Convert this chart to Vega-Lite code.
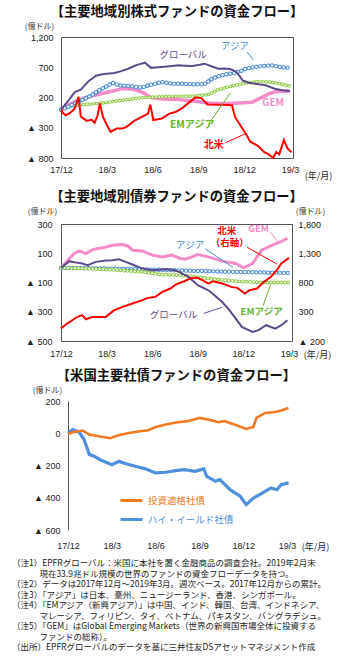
{
"$schema": "https://vega.github.io/schema/vega-lite/v6.json",
"background": "white",
"padding": {"left": 12, "top": 4, "right": 4, "bottom": 0},
"spacing": 8,
"resolve": {"scale": {"color": "independent"}, "legend": {"color": "independent"}},
"config": {
  "view": {"stroke": "#555", "strokeWidth": 1},
  "font": "Noto Sans CJK JP",
  "axis": {"grid": false, "domain": false, "ticks": false, "labelFont": "Liberation Sans", "labelFontSize": 9, "labelColor": "#222", "titleFont": "Noto Sans CJK JP", "titleFontWeight": "normal", "titleFontSize": 8, "titleColor": "#333"},
  "title": {"font": "Noto Sans CJK JP", "fontSize": 13.3, "fontWeight": "bold", "color": "#111", "offset": 4},
  "text": {"font": "Noto Sans CJK JP"}
},
"datasets": {
  "eq": [
    {"s":"グローバル","t":0,"v":0},{"s":"グローバル","t":0.5,"v":154},{"s":"グローバル","t":0.9,"v":290},{"s":"グローバル","t":1.3,"v":330},{"s":"グローバル","t":1.8,"v":470},{"s":"グローバル","t":2.3,"v":560},{"s":"グローバル","t":2.7,"v":585},{"s":"グローバル","t":3.5,"v":605},{"s":"グローバル","t":4.0,"v":640},{"s":"グローバル","t":4.4,"v":676},{"s":"グローバル","t":4.8,"v":720},{"s":"グローバル","t":5.1,"v":748},{"s":"グローバル","t":5.5,"v":775},{"s":"グローバル","t":5.9,"v":690},{"s":"グローバル","t":6.6,"v":704},{"s":"グローバル","t":7.1,"v":715},{"s":"グローバル","t":7.7,"v":731},{"s":"グローバル","t":8.1,"v":725},{"s":"グローバル","t":8.6,"v":720},{"s":"グローバル","t":9.1,"v":740},{"s":"グローバル","t":9.4,"v":759},{"s":"グローバル","t":9.8,"v":720},{"s":"グローバル","t":10.3,"v":676},{"s":"グローバル","t":10.7,"v":680},{"s":"グローバル","t":11.1,"v":670},{"s":"グローバル","t":11.5,"v":621},{"s":"グローバル","t":11.9,"v":484},{"s":"グローバル","t":12.3,"v":445},{"s":"グローバル","t":12.7,"v":429},{"s":"グローバル","t":13.4,"v":401},{"s":"グローバル","t":14.0,"v":346},{"s":"グローバル","t":14.5,"v":320},{"s":"グローバル","t":15.0,"v":308},
    {"s":"アジア","t":0,"v":0},{"s":"アジア","t":0.5,"v":50},{"s":"アジア","t":0.9,"v":99},{"s":"アジア","t":1.4,"v":160},{"s":"アジア","t":1.8,"v":209},{"s":"アジア","t":2.2,"v":270},{"s":"アジア","t":2.5,"v":319},{"s":"アジア","t":2.8,"v":360},{"s":"アジア","t":3.1,"v":401},{"s":"アジア","t":3.4,"v":440},{"s":"アジア","t":3.8,"v":401},{"s":"アジア","t":4.2,"v":395},{"s":"アジア","t":4.6,"v":390},{"s":"アジア","t":5.0,"v":370},{"s":"アジア","t":5.3,"v":363},{"s":"アジア","t":5.7,"v":400},{"s":"アジア","t":6.2,"v":429},{"s":"アジア","t":6.6,"v":456},{"s":"アジア","t":7.0,"v":440},{"s":"アジア","t":7.3,"v":429},{"s":"アジア","t":7.8,"v":429},{"s":"アジア","t":8.5,"v":418},{"s":"アジア","t":9.0,"v":418},{"s":"アジア","t":9.4,"v":418},{"s":"アジア","t":9.9,"v":511},{"s":"アジア","t":10.3,"v":550},{"s":"アジア","t":10.8,"v":583},{"s":"アジア","t":11.4,"v":605},{"s":"アジア","t":11.8,"v":640},{"s":"アジア","t":12.1,"v":676},{"s":"アジア","t":12.6,"v":700},{"s":"アジア","t":13.2,"v":720},{"s":"アジア","t":13.8,"v":731},{"s":"アジア","t":14.4,"v":704},{"s":"アジア","t":15.0,"v":687},
    {"s":"GEM","t":0,"v":0},{"s":"GEM","t":0.5,"v":80},{"s":"GEM","t":1.1,"v":154},{"s":"GEM","t":1.6,"v":200},{"s":"GEM","t":2.2,"v":236},{"s":"GEM","t":2.7,"v":265},{"s":"GEM","t":3.1,"v":291},{"s":"GEM","t":3.6,"v":320},{"s":"GEM","t":4.0,"v":346},{"s":"GEM","t":4.4,"v":345},{"s":"GEM","t":4.8,"v":330},{"s":"GEM","t":5.2,"v":300},{"s":"GEM","t":5.5,"v":264},{"s":"GEM","t":5.9,"v":198},{"s":"GEM","t":6.4,"v":185},{"s":"GEM","t":6.8,"v":176},{"s":"GEM","t":7.7,"v":165},{"s":"GEM","t":8.3,"v":150},{"s":"GEM","t":8.8,"v":137},{"s":"GEM","t":9.7,"v":110},{"s":"GEM","t":10.3,"v":100},{"s":"GEM","t":11.0,"v":99},{"s":"GEM","t":11.7,"v":110},{"s":"GEM","t":12.5,"v":121},{"s":"GEM","t":12.9,"v":170},{"s":"GEM","t":13.2,"v":209},{"s":"GEM","t":13.6,"v":260},{"s":"GEM","t":14.0,"v":291},{"s":"GEM","t":14.5,"v":305},{"s":"GEM","t":15.0,"v":308},
    {"s":"EMアジア","t":0,"v":0},{"s":"EMアジア","t":0.5,"v":40},{"s":"EMアジア","t":0.9,"v":71},{"s":"EMアジア","t":1.8,"v":88},{"s":"EMアジア","t":2.9,"v":115},{"s":"EMアジア","t":4.0,"v":154},{"s":"EMアジア","t":5.1,"v":192},{"s":"EMアジア","t":6.2,"v":209},{"s":"EMアジア","t":7.7,"v":220},{"s":"EMアジア","t":8.8,"v":225},{"s":"EMアジア","t":9.7,"v":253},{"s":"EMアジア","t":10.3,"v":330},{"s":"EMアジア","t":11.2,"v":390},{"s":"EMアジア","t":12.1,"v":440},{"s":"EMアジア","t":13.0,"v":465},{"s":"EMアジア","t":13.6,"v":456},{"s":"EMアジア","t":14.2,"v":435},{"s":"EMアジア","t":15.0,"v":390},
    {"s":"北米","t":0,"v":0},{"s":"北米","t":0.15,"v":-60},{"s":"北米","t":0.3,"v":-94},{"s":"北米","t":0.6,"v":-55},{"s":"北米","t":0.9,"v":20},{"s":"北米","t":1.15,"v":213},{"s":"北米","t":1.3,"v":-117},{"s":"北米","t":1.7,"v":-187},{"s":"北米","t":2.0,"v":-165},{"s":"北米","t":2.2,"v":-220},{"s":"北米","t":2.4,"v":-94},{"s":"北米","t":2.55,"v":100},{"s":"北米","t":2.75,"v":-121},{"s":"北米","t":3.0,"v":-250},{"s":"北米","t":3.25,"v":-369},{"s":"北米","t":3.65,"v":-314},{"s":"北米","t":4.0,"v":-314},{"s":"北米","t":4.3,"v":-286},{"s":"北米","t":4.8,"v":-187},{"s":"北米","t":5.3,"v":-121},{"s":"北米","t":5.7,"v":-66},{"s":"北米","t":5.85,"v":80},{"s":"北米","t":6.05,"v":-172},{"s":"北米","t":6.6,"v":-149},{"s":"北米","t":7.1,"v":-66},{"s":"北米","t":7.5,"v":-39},{"s":"北米","t":7.9,"v":16},{"s":"北米","t":8.3,"v":99},{"s":"北米","t":8.8,"v":200},{"s":"北米","t":9.2,"v":190},{"s":"北米","t":9.6,"v":85},{"s":"北米","t":10.5,"v":80},{"s":"北米","t":11.2,"v":71},{"s":"北米","t":11.4,"v":-121},{"s":"北米","t":11.75,"v":-260},{"s":"北米","t":12.1,"v":-396},{"s":"北米","t":12.4,"v":-530},{"s":"北米","t":12.9,"v":-600},{"s":"北米","t":13.3,"v":-700},{"s":"北米","t":13.6,"v":-740},{"s":"北米","t":13.9,"v":-795},{"s":"北米","t":14.1,"v":-700},{"s":"北米","t":14.3,"v":-740},{"s":"北米","t":14.6,"v":-500},{"s":"北米","t":14.85,"v":-644},{"s":"北米","t":15.1,"v":-705}
  ],
  "eqlab": [
    {"s":"グローバル","t":8.0,"v":902,"label":"グローバル"},
    {"s":"アジア","t":11.4,"v":1056,"label":"アジア"},
    {"s":"GEM","t":13.9,"v":114,"label":"GEM"},
    {"s":"EMアジア","t":8.6,"v":-255,"label":"EMアジア"},
    {"s":"北米","t":10.0,"v":-585,"label":"北米"}
  ],
  "eqarr": [
    {"s":"アジア","t":12.2,"v":950,"t2":12.6,"v2":820},
    {"s":"EMアジア","t":9.8,"v":-190,"t2":11.1,"v2":274},
    {"s":"北米","t":10.75,"v":-550,"t2":12.05,"v2":-403}
  ],
  "bd": [
    {"s":"GEM","t":0,"v":0},{"s":"GEM","t":0.55,"v":64},{"s":"GEM","t":0.9,"v":100},{"s":"GEM","t":1.2,"v":116},{"s":"GEM","t":1.64,"v":98},{"s":"GEM","t":2.08,"v":125},{"s":"GEM","t":2.74,"v":137},{"s":"GEM","t":3.4,"v":155},{"s":"GEM","t":4.05,"v":160},{"s":"GEM","t":4.4,"v":150},{"s":"GEM","t":4.7,"v":121},{"s":"GEM","t":5.36,"v":116},{"s":"GEM","t":6.0,"v":87},{"s":"GEM","t":6.67,"v":75},{"s":"GEM","t":7.3,"v":87},{"s":"GEM","t":7.85,"v":64},{"s":"GEM","t":8.2,"v":59},{"s":"GEM","t":9.0,"v":91},{"s":"GEM","t":9.7,"v":75},{"s":"GEM","t":10.6,"v":46},{"s":"GEM","t":11.5,"v":30},{"s":"GEM","t":12.0,"v":0},{"s":"GEM","t":12.6,"v":30},{"s":"GEM","t":13.2,"v":121},{"s":"GEM","t":13.9,"v":155},{"s":"GEM","t":14.5,"v":182},{"s":"GEM","t":14.9,"v":201},
    {"s":"グローバル","t":0,"v":0},{"s":"グローバル","t":0.55,"v":46},{"s":"グローバル","t":1.0,"v":36},{"s":"グローバル","t":1.4,"v":30},{"s":"グローバル","t":1.75,"v":18},{"s":"グローバル","t":2.3,"v":41},{"s":"グローバル","t":2.95,"v":50},{"s":"グローバル","t":3.4,"v":52},{"s":"グローバル","t":3.8,"v":59},{"s":"グローバル","t":4.26,"v":41},{"s":"グローバル","t":4.7,"v":23},{"s":"グローバル","t":5.36,"v":-5},{"s":"グローバル","t":6.0,"v":-16},{"s":"グローバル","t":6.9,"v":-9},{"s":"グローバル","t":7.5,"v":-16},{"s":"グローバル","t":7.75,"v":-27},{"s":"グローバル","t":8.4,"v":-62},{"s":"グローバル","t":9.0,"v":-119},{"s":"グローバル","t":9.7,"v":-153},{"s":"グローバル","t":10.1,"v":-187},{"s":"グローバル","t":10.6,"v":-233},{"s":"グローバル","t":11.0,"v":-278},{"s":"グローバル","t":11.5,"v":-347},{"s":"グローバル","t":11.9,"v":-404},{"s":"グローバル","t":12.6,"v":-438},{"s":"グローバル","t":13.0,"v":-426},{"s":"グローバル","t":13.5,"v":-392},{"s":"グローバル","t":14.1,"v":-415},{"s":"グローバル","t":14.5,"v":-392},{"s":"グローバル","t":14.9,"v":-358},
    {"s":"アジア","t":0,"v":0},{"s":"アジア","t":2,"v":-3},{"s":"アジア","t":4,"v":-7},{"s":"アジア","t":6,"v":-12},{"s":"アジア","t":8,"v":-18},{"s":"アジア","t":10,"v":-24},{"s":"アジア","t":12,"v":-29},{"s":"アジア","t":14,"v":-33},{"s":"アジア","t":15,"v":-35},
    {"s":"EMアジア","t":0,"v":0},{"s":"EMアジア","t":1.75,"v":-5},{"s":"EMアジア","t":3.9,"v":-16},{"s":"EMアジア","t":5.36,"v":-27},{"s":"EMアジア","t":6.67,"v":-46},{"s":"EMアジア","t":7.85,"v":-50},{"s":"EMアジア","t":8.9,"v":-62},{"s":"EMアジア","t":10.2,"v":-78},{"s":"EMアジア","t":11.5,"v":-91},{"s":"EMアジア","t":13.2,"v":-100},{"s":"EMアジア","t":15,"v":-100},
    {"s":"北米","t":0,"v":13},{"s":"北米","t":0.4,"v":98},{"s":"北米","t":0.74,"v":155},{"s":"北米","t":1.07,"v":212},{"s":"北米","t":1.4,"v":241},{"s":"北米","t":1.64,"v":172},{"s":"北米","t":2.08,"v":212},{"s":"北米","t":2.95,"v":212},{"s":"北米","t":3.5,"v":326},{"s":"北米","t":4.05,"v":384},{"s":"北米","t":4.7,"v":440},{"s":"北米","t":5.36,"v":498},{"s":"北米","t":5.7,"v":537},{"s":"北米","t":6.2,"v":554},{"s":"北米","t":6.67,"v":640},{"s":"北米","t":7.2,"v":697},{"s":"北米","t":7.54,"v":765},{"s":"北米","t":8.1,"v":822},{"s":"北米","t":8.5,"v":867},{"s":"北米","t":8.95,"v":885},{"s":"北米","t":9.3,"v":840},{"s":"北米","t":9.7,"v":782},{"s":"北米","t":10.0,"v":822},{"s":"北米","t":10.6,"v":782},{"s":"北米","t":11.2,"v":725},{"s":"北米","t":11.6,"v":708},{"s":"北米","t":12.1,"v":610},{"s":"北米","t":12.4,"v":668},{"s":"北米","t":12.9,"v":697},{"s":"北米","t":13.3,"v":800},{"s":"北米","t":13.8,"v":895},{"s":"北米","t":14.2,"v":1010},{"s":"北米","t":14.5,"v":1125},{"s":"北米","t":15.0,"v":1220}
  ],
  "bdlab": [
    {"s":"北米","t":10.9,"v":255,"label":"北米"},
    {"s":"北米","t":11.1,"v":168,"label":"（右軸）"},
    {"s":"GEM","t":13.0,"v":267,"label":"GEM"},
    {"s":"アジア","t":8.5,"v":153,"label":"アジア"},
    {"s":"グローバル","t":7.4,"v":-321,"label":"グローバル"},
    {"s":"EMアジア","t":13.2,"v":-304,"label":"EMアジア"}
  ],
  "bdarr": [
    {"s":"北米","t":12.25,"v":141,"t2":14.2,"v2":27},
    {"s":"GEM","t":13.8,"v":243,"t2":14.3,"v2":171},
    {"s":"アジア","t":9.5,"v":130,"t2":11.3,"v2":4},
    {"s":"グローバル","t":9.4,"v":-311,"t2":10.6,"v2":-270},
    {"s":"EMアジア","t":13.3,"v":-258,"t2":13.8,"v2":-109}
  ],
  "cp": [
    {"s":"投資適格社債","t":0,"v":-4},{"s":"投資適格社債","t":0.33,"v":6},{"s":"投資適格社債","t":1.0,"v":17},{"s":"投資適格社債","t":1.46,"v":-8},{"s":"投資適格社債","t":2.1,"v":-19},{"s":"投資適格社債","t":2.9,"v":-31},{"s":"投資適格社債","t":3.4,"v":-14},{"s":"投資適格社債","t":4.0,"v":-2},{"s":"投資適格社債","t":4.9,"v":12},{"s":"投資適格社債","t":5.5,"v":19},{"s":"投資適格社債","t":6.0,"v":39},{"s":"投資適格社債","t":6.7,"v":54},{"s":"投資適格社債","t":7.5,"v":68},{"s":"投資適格社債","t":8.2,"v":75},{"s":"投資適格社債","t":9.0,"v":95},{"s":"投資適格社債","t":9.6,"v":85},{"s":"投資適格社債","t":10.3,"v":68},{"s":"投資適格社債","t":10.7,"v":75},{"s":"投資適格社債","t":11.4,"v":54},{"s":"投資適格社債","t":12.2,"v":27},{"s":"投資適格社債","t":12.7,"v":39},{"s":"投資適格社債","t":12.9,"v":95},{"s":"投資適格社債","t":13.5,"v":126},{"s":"投資適格社債","t":14.2,"v":132},{"s":"投資適格社債","t":14.6,"v":141},{"s":"投資適格社債","t":15.1,"v":157},
    {"s":"ハイ・イールド社債","t":0,"v":0},{"s":"ハイ・イールド社債","t":0.33,"v":23},{"s":"ハイ・イールド社債","t":0.78,"v":6},{"s":"ハイ・イールド社債","t":1.1,"v":-39},{"s":"ハイ・イールド社債","t":1.46,"v":-132},{"s":"ハイ・イールド社債","t":1.8,"v":-143},{"s":"ハイ・イールド社債","t":2.2,"v":-164},{"s":"ハイ・イールド社債","t":3.0,"v":-195},{"s":"ハイ・イールド社債","t":3.5,"v":-174},{"s":"ハイ・イールド社債","t":3.8,"v":-184},{"s":"ハイ・イールド社債","t":4.6,"v":-205},{"s":"ハイ・イールド社債","t":5.3,"v":-221},{"s":"ハイ・イールド社債","t":6.0,"v":-246},{"s":"ハイ・イールド社債","t":6.7,"v":-242},{"s":"ハイ・イールド社債","t":7.5,"v":-230},{"s":"ハイ・イールド社債","t":8.0,"v":-226},{"s":"ハイ・イールド社債","t":8.7,"v":-236},{"s":"ハイ・イールド社債","t":9.3,"v":-221},{"s":"ハイ・イールド社債","t":9.5,"v":-267},{"s":"ハイ・イールド社債","t":10.1,"v":-298},{"s":"ハイ・イールド社債","t":10.4,"v":-288},{"s":"ハイ・イールド社債","t":11.1,"v":-350},{"s":"ハイ・イールド社債","t":11.8,"v":-391},{"s":"ハイ・イールド社債","t":12.2,"v":-443},{"s":"ハイ・イールド社債","t":12.7,"v":-402},{"s":"ハイ・イールド社債","t":13.3,"v":-371},{"s":"ハイ・イールド社債","t":13.9,"v":-339},{"s":"ハイ・イールド社債","t":14.3,"v":-350},{"s":"ハイ・イールド社債","t":14.6,"v":-319},{"s":"ハイ・イールド社債","t":15.1,"v":-308}
  ]
},
"vconcat": [
  {
    "width": 232, "height": 121,
    "title": {"text": "【主要地域別株式ファンドの資金フロー】"},
    "encoding": {
      "x": {"field": "t", "type": "quantitative", "scale": {"domain": [0, 15.2], "nice": false, "zero": false},
            "axis": {"values": [0,3,6,9,12,15], "labelExpr": "['17/12','18/3','18/6','18/9','18/12','19/3'][round(datum.value/3)]", "labelPadding": 7, "labelFlush": false, "labelOverlap": false, "title": "(年/月)", "titleAngle": 0, "titleX": 257, "titleY": 17, "titleAlign": "center", "titleBaseline": "middle", "titleFontSize": 9, "titleColor": "#222"}},
      "y": {"field": "v", "type": "quantitative", "scale": {"domain": [-800, 1200], "nice": false, "zero": false},
            "axis": {"values": [-800,-300,200,700,1200], "labelExpr": "datum.value < 0 ? '▲ ' + format(-datum.value, ',') : format(datum.value, ',')", "labelPadding": 8, "title": "(億ドル)", "titleAngle": 0, "titleX": -22, "titleY": -11, "titleAlign": "center", "titleBaseline": "middle"}}
    },
    "layer": [
      {"data": {"values": [{}]}, "mark": {"type": "rule", "color": "#333", "strokeWidth": 1}, "encoding": {"x": {"datum": 0}, "x2": {"datum": 15.2}, "y": {"datum": 0}}},
      {"data": {"values": [{"t":3},{"t":6},{"t":9},{"t":12},{"t":15}]}, "mark": {"type": "rule", "color": "#333", "strokeWidth": 1}, "encoding": {"y": {"datum": 0}, "y2": {"datum": 50}}},
      {"data": {"name": "eq"}, "transform": [{"filter": "datum.s == 'GEM'"}], "mark": {"type": "line", "color": "#f48cc8", "strokeWidth": 3.5}},
      {"data": {"name": "eq"}, "transform": [{"filter": "datum.s == 'EMアジア'"}], "mark": {"type": "line", "color": "#8cc63f", "strokeWidth": 3.6, "strokeDash": [0.01, 3.3], "strokeCap": "round"}},
      {"data": {"name": "eq"}, "transform": [{"filter": "datum.s == 'EMアジア'"}], "mark": {"type": "line", "color": "white", "strokeWidth": 1.8, "strokeDash": [0.01, 3.3], "strokeCap": "round"}},
      {"data": {"name": "eq"}, "transform": [{"filter": "datum.s == 'アジア'"}], "mark": {"type": "line", "color": "#4a8ad6", "strokeWidth": 4.4, "strokeDash": [0.01, 3.9], "strokeCap": "round"}},
      {"data": {"name": "eq"}, "transform": [{"filter": "datum.s == 'アジア'"}], "mark": {"type": "line", "color": "white", "strokeWidth": 2.4, "strokeDash": [0.01, 3.9], "strokeCap": "round"}},
      {"data": {"name": "eq"}, "transform": [{"filter": "datum.s == 'グローバル'"}], "mark": {"type": "line", "color": "#5d4a8a", "strokeWidth": 2}},
      {"data": {"name": "eq"}, "transform": [{"filter": "datum.s == '北米'"}], "mark": {"type": "line", "color": "#ff0000", "strokeWidth": 2}},
      {"data": {"name": "eqarr"}, "mark": {"type": "rule", "strokeWidth": 1},
       "encoding": {"x2": {"field": "t2"}, "y2": {"field": "v2"},
                    "color": {"field": "s", "type": "nominal", "legend": null, "scale": {"domain": ["グローバル","アジア","GEM","EMアジア","北米"], "range": ["#5d4a8a","#4a8ad6","#f48cc8","#66b32e","#ff0000"]}}}},
      {"data": {"name": "eqlab"}, "transform": [{"filter": "datum.s == 'グローバル' || datum.s == 'アジア'"}], "mark": {"type": "text", "fontSize": 9.5, "fontWeight": "normal"},
       "encoding": {"text": {"field": "label"}, "color": {"field": "s", "type": "nominal", "legend": null}}},
      {"data": {"name": "eqlab"}, "transform": [{"filter": "datum.s != 'グローバル' && datum.s != 'アジア'"}], "mark": {"type": "text", "fontSize": 10, "fontWeight": "bold"},
       "encoding": {"text": {"field": "label"}, "color": {"field": "s", "type": "nominal", "legend": null}}}
    ]
  },
  {
    "width": 231, "height": 117,
    "title": {"text": "【主要地域別債券ファンドの資金フロー】"},
    "encoding": {
      "x": {"field": "t", "type": "quantitative", "scale": {"domain": [0, 15.2], "nice": false, "zero": false},
            "axis": {"values": [0,3,6,9,12,15], "labelExpr": "['17/12','18/3','18/6','18/9','18/12','19/3'][round(datum.value/3)]", "labelPadding": 8, "labelFlush": false, "labelOverlap": false, "title": "(年/月)", "titleAngle": 0, "titleX": 256, "titleY": 13, "titleAlign": "center", "titleBaseline": "middle", "titleFontSize": 9, "titleColor": "#222"}}
    },
    "layer": [
      {
        "encoding": {
          "y": {"field": "v", "type": "quantitative", "scale": {"domain": [-500, 300], "nice": false, "zero": false},
                "axis": {"values": [-500,-300,-100,100,300], "labelExpr": "datum.value < 0 ? '▲ ' + format(-datum.value, ',') : format(datum.value, ',')", "labelPadding": 9, "title": "(億ドル)", "titleAngle": 0, "titleX": -19, "titleY": -13, "titleAlign": "center", "titleBaseline": "middle"}}
        },
        "layer": [
          {"data": {"values": [{}]}, "mark": {"type": "rule", "color": "#333", "strokeWidth": 1}, "encoding": {"x": {"datum": 0}, "x2": {"datum": 15.2}, "y": {"datum": 0}}},
          {"data": {"values": [{"t":3},{"t":6},{"t":9},{"t":12},{"t":15}]}, "mark": {"type": "rule", "color": "#333", "strokeWidth": 1}, "encoding": {"y": {"datum": 0}, "y2": {"datum": 20}}},
          {"data": {"name": "bd"}, "transform": [{"filter": "datum.s == 'GEM'"}], "mark": {"type": "line", "color": "#f48cc8", "strokeWidth": 3}},
          {"data": {"name": "bd"}, "transform": [{"filter": "datum.s == 'アジア'"}], "mark": {"type": "line", "color": "#4a8ad6", "strokeWidth": 4.4, "strokeDash": [0.01, 3.9], "strokeCap": "round"}},
          {"data": {"name": "bd"}, "transform": [{"filter": "datum.s == 'アジア'"}], "mark": {"type": "line", "color": "white", "strokeWidth": 2.4, "strokeDash": [0.01, 3.9], "strokeCap": "round"}},
          {"data": {"name": "bd"}, "transform": [{"filter": "datum.s == 'EMアジア'"}], "mark": {"type": "line", "color": "#8cc63f", "strokeWidth": 3.8, "strokeDash": [0.01, 3.5], "strokeCap": "round"}},
          {"data": {"name": "bd"}, "transform": [{"filter": "datum.s == 'EMアジア'"}], "mark": {"type": "line", "color": "white", "strokeWidth": 2, "strokeDash": [0.01, 3.5], "strokeCap": "round"}},
          {"data": {"name": "bd"}, "transform": [{"filter": "datum.s == 'グローバル'"}], "mark": {"type": "line", "color": "#5d4a8a", "strokeWidth": 2}},
          {"data": {"name": "bdarr"}, "mark": {"type": "rule", "strokeWidth": 1},
           "encoding": {"x2": {"field": "t2"}, "y2": {"field": "v2"},
                        "color": {"field": "s", "type": "nominal", "legend": null, "scale": {"domain": ["グローバル","アジア","GEM","EMアジア","北米"], "range": ["#5d4a8a","#4a8ad6","#f48cc8","#66b32e","#ff0000"]}}}},
          {"data": {"name": "bdlab"}, "transform": [{"filter": "datum.s == 'グローバル' || datum.s == 'アジア'"}], "mark": {"type": "text", "fontSize": 9.5, "fontWeight": "normal"},
           "encoding": {"text": {"field": "label"}, "color": {"field": "s", "type": "nominal", "legend": null}}},
          {"data": {"name": "bdlab"}, "transform": [{"filter": "datum.s != 'グローバル' && datum.s != 'アジア'"}], "mark": {"type": "text", "fontSize": 9.5, "fontWeight": "bold"},
           "encoding": {"text": {"field": "label"}, "color": {"field": "s", "type": "nominal", "legend": null}}}
        ]
      },
      {
        "data": {"name": "bd"}, "transform": [{"filter": "datum.s == '北米'"}],
        "mark": {"type": "line", "color": "#ff0000", "strokeWidth": 2},
        "encoding": {
          "y": {"field": "v", "type": "quantitative", "scale": {"domain": [-200, 1800], "nice": false, "zero": false},
                "axis": {"orient": "right", "values": [-200,300,800,1300,1800], "labelExpr": "datum.value < 0 ? '▲ ' + format(-datum.value, ',') : format(datum.value, ',')", "labelPadding": 6, "title": "(億ドル)", "titleAngle": 0, "titleX": 18, "titleY": -13, "titleAlign": "center", "titleBaseline": "middle"}}
        }
      }
    ],
    "resolve": {"scale": {"y": "independent"}}
  },
  {
    "width": 231, "height": 129,
    "view": {"stroke": null},
    "title": {"text": "【米国主要社債ファンドの資金フロー】"},
    "data": {"name": "cp"},
    "encoding": {
      "x": {"field": "t", "type": "quantitative", "scale": {"domain": [0, 15.34], "range": [7, 231], "nice": false, "zero": false},
            "axis": {"values": [0,3,6,9,12,15], "labelExpr": "['17/12','18/3','18/6','18/9','18/12','19/3'][round(datum.value/3)]", "labelPadding": 11, "labelFlush": false, "labelOverlap": false, "title": "(年/月)", "titleAngle": 0, "titleX": 254, "titleY": 16, "titleAlign": "center", "titleBaseline": "middle", "titleFontSize": 9, "titleColor": "#222"}},
      "y": {"field": "v", "type": "quantitative", "scale": {"domain": [-600, 200], "nice": false, "zero": false},
            "axis": {"values": [-600,-400,-200,0,200], "offset": -7, "domain": true, "domainColor": "#555", "labelExpr": "datum.value < 0 ? '▲ ' + format(-datum.value, ',') : format(datum.value, ',')", "labelPadding": 8, "title": "(億ドル)", "titleAngle": 0, "titleX": -21, "titleY": -11, "titleAlign": "center", "titleBaseline": "middle"}}
    },
    "layer": [
      {"data": {"values": [{}]}, "mark": {"type": "rule", "color": "#555", "strokeWidth": 1}, "encoding": {"x": {"datum": 0}, "x2": {"datum": 15.34}, "y": {"datum": 200}}},
      {"data": {"values": [{}]}, "mark": {"type": "rule", "color": "#555", "strokeWidth": 1}, "encoding": {"x": {"datum": 0}, "x2": {"datum": 15.34}, "y": {"datum": -600}}},
      {"data": {"values": [{}]}, "mark": {"type": "rule", "color": "#555", "strokeWidth": 1}, "encoding": {"x": {"datum": 15.34}, "y": {"datum": -600}, "y2": {"datum": 200}}},
      {"data": {"values": [{}]}, "mark": {"type": "rule", "color": "#777", "strokeWidth": 1}, "encoding": {"x": {"datum": 0}, "x2": {"datum": 15.34}, "y": {"datum": 0}}},
      {"data": {"values": [{"t":3},{"t":6},{"t":9},{"t":12},{"t":15}]}, "mark": {"type": "rule", "color": "#777", "strokeWidth": 1}, "encoding": {"y": {"datum": 0}, "y2": {"datum": 18}}},
      {"transform": [{"filter": "datum.s == 'ハイ・イールド社債'"}], "mark": {"type": "line", "strokeWidth": 3.2},
       "encoding": {"color": {"field": "s", "type": "nominal", "scale": {"domain": ["投資適格社債","ハイ・イールド社債"], "range": ["#f07a22","#4f8fdc"]},
          "legend": {"orient": "none", "legendX": 58, "legendY": 87, "title": null, "symbolType": "stroke", "symbolSize": 484, "symbolStrokeWidth": 3, "labelFont": "Noto Sans CJK JP", "labelFontSize": 9.5, "labelOffset": 4, "rowPadding": -6,
            "encode": {"labels": {"update": {"fill": {"signal": "datum.value === '投資適格社債' ? '#f07a22' : '#4f8fdc'"}}}}}}}},
      {"transform": [{"filter": "datum.s == '投資適格社債'"}], "mark": {"type": "line", "strokeWidth": 2.6},
       "encoding": {"color": {"field": "s", "type": "nominal"}}}
    ]
  },
  {
    "width": 231, "height": 1,
    "view": {"stroke": null},
    "title": {
      "text": [
        "（注1）EPFRグローバル：米国に本社を置く金融商品の調査会社。2019年2月末",
        "\u200b　　　 現在33.9兆ドル規模の世界のファンドの資金フローデータを持つ。",
        "（注2）データは2017年12月～2019年3月。週次ベース。2017年12月からの累計。",
        "（注3）「アジア」は日本、豪州、ニュージーランド、香港、シンガポール。",
        "（注4）「EMアジア（新興アジア）」は中国、インド、韓国、台湾、インドネシア、",
        "\u200b　　　 マレーシア、フィリピン、タイ、ベトナム、パキスタン、バングラデシュ。",
        "（注5）「GEM」はGlobal Emerging Markets（世界の新興国市場全体に投資する",
        "\u200b　　　 ファンドの総称）。",
        "（出所）EPFRグローバルのデータを基に三井住友DSアセットマネジメント作成"
      ],
      "anchor": "start", "frame": "group", "dx": -49, "offset": 0, "fontSize": 8.5, "fontWeight": "normal", "lineHeight": 10.5, "color": "#222"
    },
    "data": {"values": [{}]},
    "mark": {"type": "text"},
    "encoding": {"text": {"value": ""}}
  }
]
}
